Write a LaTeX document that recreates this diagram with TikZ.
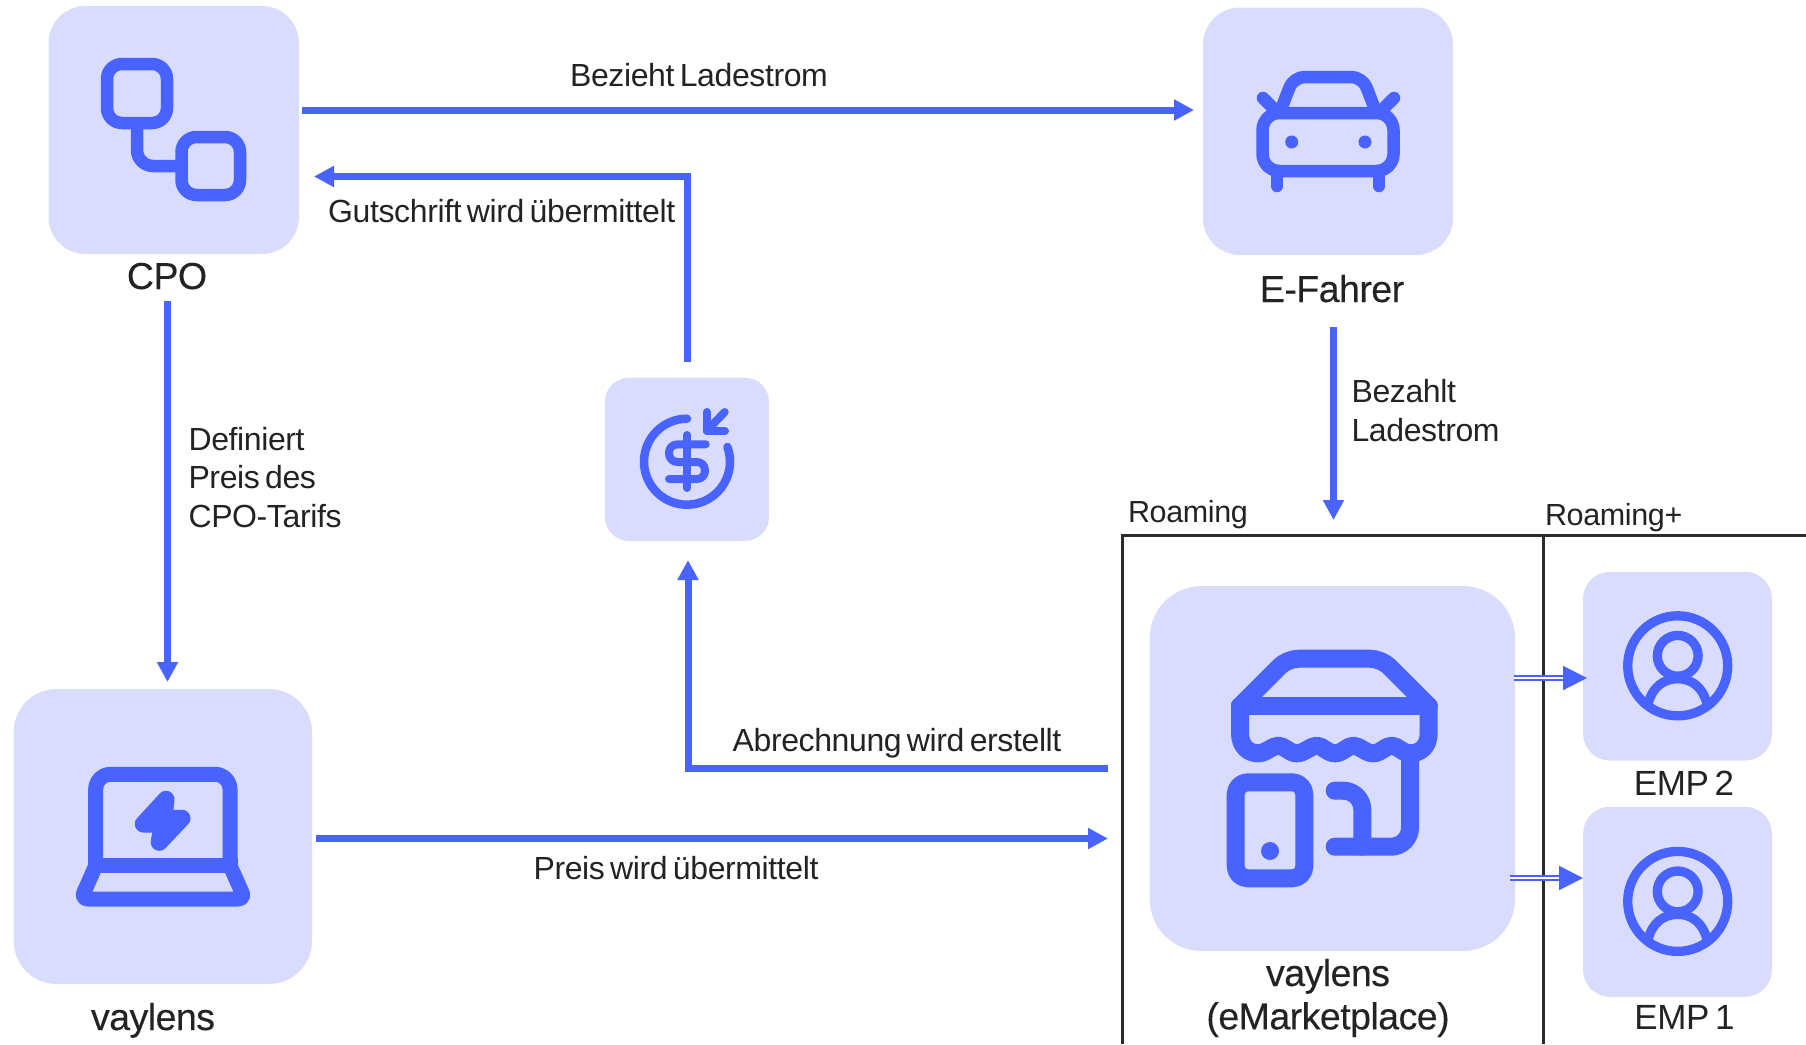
\documentclass[tikz,border=0pt]{standalone}
\usepackage{fontspec}
\setmainfont[LetterSpace=-1.2,WordSpace=0.62]{Liberation Sans}
\newfontfamily\headfont[LetterSpace=-1.4,WordSpace=0.5,FakeBold=0.25]{Liberation Sans}
\usetikzlibrary{arrows.meta,calc}
\definecolor{vblue}{HTML}{4863FF}
\definecolor{vbox}{HTML}{DADCFD}
\definecolor{vtext}{HTML}{232323}
\definecolor{vframe}{HTML}{2B2B2B}
\tikzset{
  boxn/.style={fill=vbox,draw=none,inner sep=0pt,outer sep=0pt},
  flow/.style={draw=vblue,line width=7pt,-{Triangle[length=20pt,width=20pt]}},
  flowtwo/.style={draw=vblue,double=white,line width=2pt,double distance=2pt,-{Triangle[length=24pt,width=24pt]}},
  ico/.style={draw=vblue,line cap=round,line join=round,fill=none},
  lab/.style={text=vtext,inner sep=0pt,outer sep=0pt,anchor=base,font=\fontsize{32}{38.5}\selectfont},
  labl/.style={lab,align=left,anchor=base west},
  roam/.style={labl,font=\fontsize{30.5}{38}\selectfont},
  head/.style={text=vtext,inner sep=0pt,outer sep=0pt,anchor=base,font=\headfont\fontsize{37.5}{43}\selectfont},
  emp/.style={text=vtext,inner sep=0pt,outer sep=0pt,anchor=base,font=\fontsize{35}{40}\selectfont},
  frameline/.style={draw=vframe,line width=2.6pt},
  usericon/.pic={
    \draw[ico,line width=9.3pt] (1677.7,665.8) circle[radius=50];
    \draw[ico,line width=9.3pt] (1677.7,655.8) circle[radius=20.4];
    \draw[ico,line width=9.3pt] (1648.3,703) .. controls (1652,688) and (1663,678.7) .. (1677.7,678.7)
      .. controls (1692,678.7) and (1703,688) .. (1706.7,703);
  }
}
\begin{document}
\begin{tikzpicture}[x=1pt,y=-1pt]
\useasboundingbox (0,0) rectangle (1806,1044);
% frames
\draw[frameline] (1122.7,1044) -- (1122.7,535.4) -- (1806,535.4);
\draw[frameline] (1543.7,535.4) -- (1543.7,1044);
% boxes
\node[boxn,minimum width=250.5pt,minimum height=248pt,rounded corners=37pt] (cpo) at (173.75,130) {};
\node[boxn,minimum width=250pt,minimum height=247.5pt,rounded corners=37pt] (efahrer) at (1328,131.25) {};
\node[boxn,minimum width=164pt,minimum height=163.3pt,rounded corners=24pt] (dollar) at (687,459.35) {};
\node[boxn,minimum width=298.3pt,minimum height=295pt,rounded corners=43pt] (laptop) at (162.85,836.5) {};
\node[boxn,minimum width=365.3pt,minimum height=365pt,rounded corners=52pt] (shop) at (1332.35,768.5) {};
\node[boxn,minimum width=189pt,minimum height=188.7pt,rounded corners=27pt] (emptwo) at (1677.5,666.15) {};
\node[boxn,minimum width=189pt,minimum height=190pt,rounded corners=27pt] (empone) at (1677.5,901.75) {};
% connectors
\draw[flow,shorten <=3pt,shorten >=9pt] ([yshift=20pt]cpo.east) -- ([yshift=21.25pt]efahrer.west);
\draw[flow,shorten <=15.7pt,shorten >=15pt] (dollar.north) |- ([yshift=-46.5pt]cpo.east);
\draw[flow,shorten <=47pt,shorten >=7pt] ([xshift=-6.25pt]cpo.south) -- ([xshift=4.65pt]laptop.north);
\draw[flow,shorten <=72pt,shorten >=66pt] ([xshift=5.5pt]efahrer.south) -- ([xshift=1.15pt]shop.north);
\draw[flow,shorten <=41.7pt,shorten >=19pt] (shop.west) -| ([xshift=1pt]dollar.south);
\draw[flow,shorten <=4pt,shorten >=41.7pt] ([yshift=-2pt]laptop.east) -- ([yshift=-70pt]shop.west);
\draw[flowtwo,shorten <=-1pt,shorten >=-4pt] ([yshift=90.5pt]shop.east) -- ([yshift=-11.85pt]emptwo.west);
\draw[flowtwo,shorten <=-5pt] ([yshift=-109.5pt]shop.east) -- ([yshift=23.75pt]empone.west);
% CPO icon
\draw[ico,line width=12.5pt,rounded corners=15pt] (107,64) rectangle (167,123);
\draw[ico,line width=12.5pt,rounded corners=15pt] (181.5,137) rectangle (240,195);
\draw[ico,line width=12.5pt,line cap=butt,rounded corners=16pt] (137,123) -- (137,166) -- (181.5,166);
% car icon
\draw[ico,line width=12.5pt,rounded corners=17pt] (1262.5,113) rectangle (1393.5,171);
\draw[ico,line width=12.5pt,line cap=butt,rounded corners=11pt] (1280,112) -- (1293.5,77) -- (1362.5,77) -- (1376,112);
\draw[ico,line width=12.5pt] (1263,98) -- (1273,108);
\draw[ico,line width=12.5pt] (1394,98) -- (1384,108);
\draw[ico,line width=12.5pt] (1277,175) -- (1277,186);
\draw[ico,line width=12.5pt] (1379,175) -- (1379,186);
\fill[vblue] (1291.7,142) circle[radius=6.5];
\fill[vblue] (1365,142) circle[radius=6.5];
% dollar icon
\draw[ico,line width=8.5pt] (687,418.7) arc[start angle=270,end angle=-20,radius=43];
\draw[ico,line width=8pt] (724.7,412) -- (706.7,430.7);
\draw[ico,line width=8pt] (706.7,412) -- (706.7,431) -- (725,431);
\draw[ico,line width=8pt] (687,435) -- (687,488);
\draw[ico,line width=8pt] (705.7,444.3) -- (678,444.3) .. controls (672,444.3) and (669,448) .. (669,453)
  .. controls (669,458) and (672,462) .. (678,462) -- (696.7,462)
  .. controls (702,462) and (705,466) .. (705,470.7) .. controls (705,475) and (702,479) .. (697,479) -- (669,479);
% laptop icon
\draw[ico,line width=15pt,line cap=butt,rounded corners=15pt] (95.7,866) -- (95.7,774.3) -- (230,774.3) -- (230,866);
\draw[ico,line width=15pt,line cap=butt] (88,865.7) -- (237.7,865.7);
\draw[ico,line width=15pt,rounded corners=7pt] (95.7,865.7) -- (81,899) -- (245,899) -- (230,865.7);
\filldraw[draw=vblue,fill=vblue,line width=17pt,line join=round] (166,799.3) -- (143.3,824) -- (162,824) -- (159.3,842.3) -- (182,818.3) -- (164,818.3) -- cycle;
% shop icon
\draw[ico,line width=18pt,rounded corners=11pt] (1240,706) -- (1287.3,658.7) -- (1381.3,658.7) -- (1428.7,706);
\draw[ico,line width=18pt] (1240,706) -- (1428.7,706);
\draw[ico,line width=18pt] (1240,706) -- (1240,733) .. controls (1240,746) and (1248,753.3) .. (1258.3,753.3)
  .. controls (1266,753.3) and (1272,745.7) .. (1278.3,745.7)
  .. controls (1285,745.7) and (1289,753.3) .. (1296.7,753.3)
  .. controls (1305,753.3) and (1310,745.7) .. (1316.7,745.7)
  .. controls (1323,745.7) and (1327,753.3) .. (1335,753.3)
  .. controls (1343,753.3) and (1347,745.7) .. (1353.3,745.7)
  .. controls (1360,745.7) and (1365,753.3) .. (1373.3,753.3)
  .. controls (1381,753.3) and (1385,745.7) .. (1391.7,745.7)
  .. controls (1398,745.7) and (1402,753.3) .. (1410,753.3)
  .. controls (1421,753.3) and (1428.7,746) .. (1428.7,733) -- (1428.7,706);
\draw[ico,line width=18pt,rounded corners=19pt] (1410,753.3) -- (1410,846.7) -- (1334.7,846.7);
\draw[ico,line width=18pt,rounded corners=19pt] (1334.7,790.7) -- (1362.3,790.7) -- (1362.3,846.7);
\draw[ico,line width=18pt,rounded corners=12pt] (1235.7,782.3) rectangle (1304.3,878.3);
\fill[vblue] (1270,851) circle[radius=9];
% user icons
\pic {usericon};
\pic[yshift=-235.6pt] {usericon};
% labels
\node[head] (cpolab) at (167,289) {CPO};
\node[head] (efahrerlab) at (1332,302) {E-Fahrer};
\node[head] (laptoplab) at (153,1030) {vaylens};
\node[head] (shoplaba) at (1328,986) {vaylens};
\node[head] (shoplabb) at (1328,1029.3) {(eMarketplace)};
\node[emp] (emptwolab) at (1684,795.6) {EMP 2};
\node[emp] (emponelab) at (1684.5,1029) {EMP 1};
\node[lab] (bezieht) at (699,86) {Bezieht Ladestrom};
\node[lab] (gutschrift) at (501.7,222.5) {Gutschrift wird übermittelt};
\node[labl] (definiert) at (188.5,527) {Definiert\\Preis des\\CPO-Tarifs};
\node[labl] (bezahlt) at (1351.5,441) {Bezahlt\\Ladestrom};
\node[lab] (abrechnung) at (897,751) {Abrechnung wird erstellt};
\node[lab] (preis) at (676,879) {Preis wird übermittelt};
\node[roam] (roaming) at (1128,522) {Roaming};
\node[roam] (roamingplus) at (1545,525) {Roaming+};
\end{tikzpicture}
\end{document}
